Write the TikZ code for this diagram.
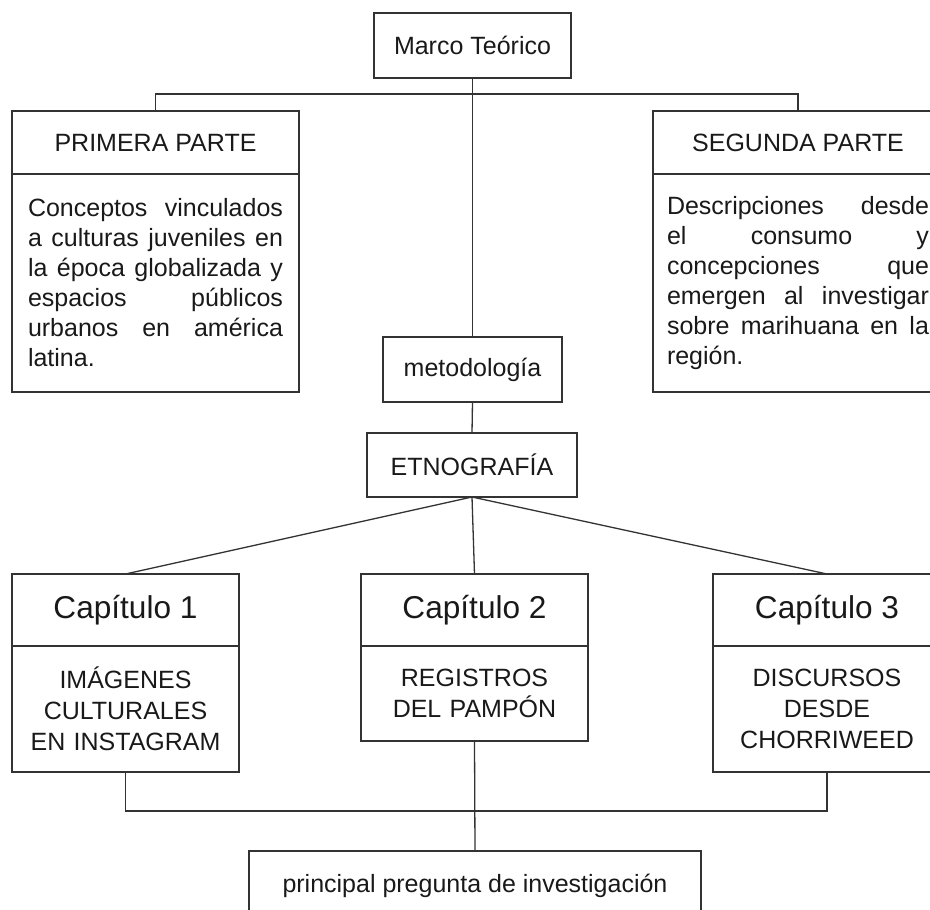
\documentclass[tikz,border=0pt]{standalone}
\usepackage{fontspec}
\setmainfont{Liberation Sans}
\begin{document}
\begin{tikzpicture}[x=1pt,y=-1pt,line width=1.3pt,
    caja/.style={draw=black!80,anchor=north west,inner sep=0pt,outer sep=0pt,
        text=black!90,font=\fontsize{25}{30}\selectfont},
    texto/.style={caja,align=justify,minimum height=218pt},
    capitulo/.style={caja,minimum width=227pt,minimum height=72pt,
        font=\fontsize{31.6}{36}\selectfont},
    contenido/.style={caja,minimum width=227pt,text width=227pt,align=center,
        font=\fontsize{25}{31}\selectfont}]
    \useasboundingbox (0,0) rectangle (930,910);
    % Marco teorico y sus dos partes
    \node[caja,minimum width=197pt,minimum height=65pt] (marco) at (374,13) {Marco Teórico};
    \node[caja,minimum width=287pt,minimum height=63pt] (primera) at (12,111) {PRIMERA PARTE};
    \node[texto,text width=255pt,inner xsep=16pt] (primeraTxt) at (12,174)
        {Conceptos vinculados\linebreak a culturas juveniles en\linebreak la época globalizada y\linebreak espacios públicos\linebreak urbanos en américa\linebreak latina.};
    \node[caja,minimum width=290pt,minimum height=63pt] (segunda) at (653,111) {SEGUNDA PARTE};
    \node[texto,text width=262pt,inner xsep=14pt] (segundaTxt) at (653,174)
        {Descripciones desde\linebreak el consumo y\linebreak concepciones que\linebreak emergen al investigar\linebreak sobre marihuana en la\linebreak región.};
    % Metodologia
    \node[caja,minimum width=179pt,minimum height=65pt] (metodologia) at (383,337) {metodología};
    \node[caja,minimum width=210pt,minimum height=64pt] (etnografia) at (367,433) {ETNOGRAFÍA};
    % Capitulos
    \node[capitulo] (cap1) at (12,574) {Capítulo 1};
    \node[contenido,minimum height=126pt] (cap1Txt) at (12,646) {IMÁGENES\\CULTURALES\\EN INSTAGRAM};
    \node[capitulo] (cap2) at (361,574) {Capítulo 2};
    \node[contenido,minimum height=95pt] (cap2Txt) at (361,646) {REGISTROS\\DEL PAMPÓN};
    \node[capitulo,minimum width=228pt] (cap3) at (713,574) {Capítulo 3};
    \node[contenido,minimum width=228pt,text width=228pt,minimum height=126pt] (cap3Txt) at (713,646) {DISCURSOS\\DESDE\\CHORRIWEED};
    % Pregunta
    \node[caja,minimum width=452pt,minimum height=70pt] (principal) at (249,851) {principal pregunta de investigación};

    % Draw connectors
    \coordinate (partes) at (472.5,94);
    \draw[black!80] (primera.north) |- (partes) -| (segunda.north);
    \draw[black!80] (marco.south) -- (metodologia.north);
    \draw[black!80] (metodologia.south) -- (etnografia.north);
    \foreach \cap in {cap1,cap2,cap3}
        \draw[black!80] (etnografia.south) -- (\cap.north);
    \coordinate (union) at (475,811);
    \draw[black!80] (cap1Txt.south) |- (union) -| (cap3Txt.south);
    \draw[black!80] (cap2Txt.south) -- (principal.north);
\end{tikzpicture}
\end{document}
